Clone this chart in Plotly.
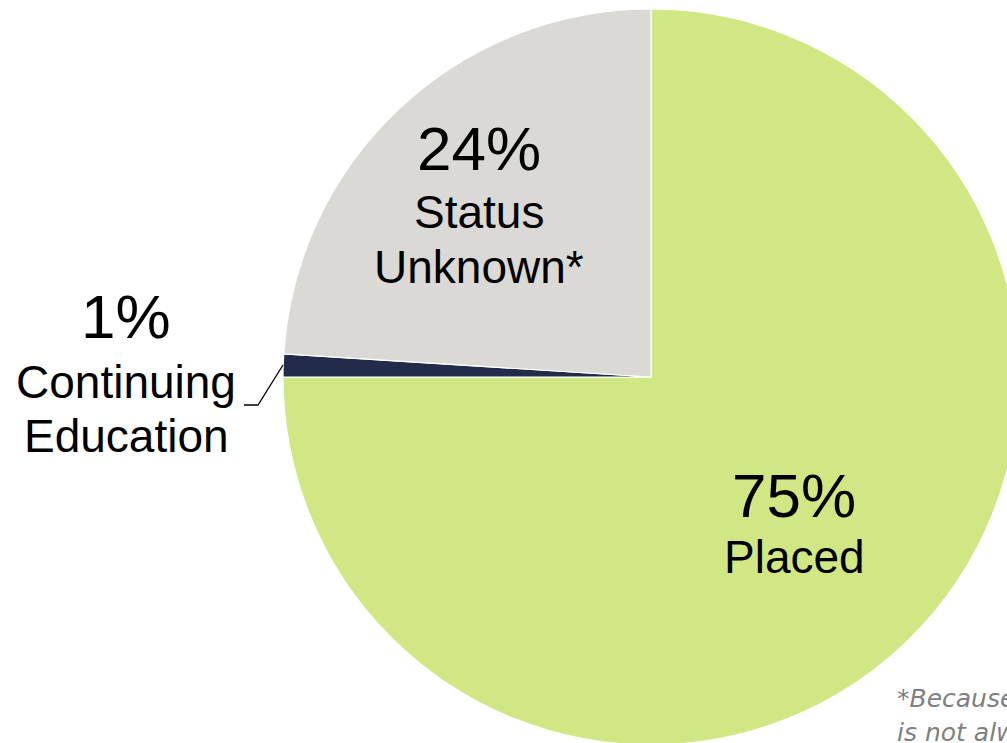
import plotly.graph_objects as go

# ---- data ----
categories = ["Placed", "Continuing Education", "Status Unknown*"]
values = [75, 1, 24]
pct_labels = ["75%", "1%", "24%"]
name_lines = [["Placed"], ["Continuing", "Education"], ["Status", "Unknown*"]]
colors = ["#D0E784", "#232B4A", "#DAD9D5"]
footnote_lines = ["*Because", "is not always"]

# ---- canvas (slightly larger than window so the pie can run off the right/bottom edge) ----
W, H = 1030, 760
cx, cy, r = 651, 377, 368


def px(x):
    return x / W


def py(y):
    return 1 - y / H


fig = go.Figure()
fig.add_trace(go.Pie(
    labels=categories,
    values=values,
    sort=False,
    direction="clockwise",
    rotation=0,
    marker=dict(colors=colors, line=dict(color="#FFFFFF", width=1.2)),
    textinfo="none",
    hoverinfo="label+percent",
    showlegend=False,
    domain=dict(x=[px(cx - r), px(cx + r)], y=[py(cy + r), py(cy - r)]),
))

FONT = "Liberation Sans, Arial, sans-serif"
NUM_SIZE = 62
LBL_SIZE = 46

# label layout: (center x, baseline of percent, baselines of name lines)
label_pos = [
    (794, 517, [573]),
    (126, 338, [398, 452]),
    (479, 170, [228, 283]),
]

annotations = []
for pct, lines, (x, b0, bl) in zip(pct_labels, name_lines, label_pos):
    annotations.append(dict(
        x=px(x), y=py(b0 - 0.347 * NUM_SIZE), xref="paper", yref="paper",
        text=pct, showarrow=False, xanchor="center", yanchor="middle",
        font=dict(family=FONT, size=NUM_SIZE, color="#000000"),
    ))
    for t, b in zip(lines, bl):
        annotations.append(dict(
            x=px(x), y=py(b - 0.347 * LBL_SIZE), xref="paper", yref="paper",
            text=t, showarrow=False, xanchor="center", yanchor="middle",
            font=dict(family=FONT, size=LBL_SIZE, color="#000000"),
        ))

FN_SIZE = 25
FN_FONT = "DejaVu Sans, Verdana, sans-serif"
for t, b in zip(footnote_lines, [707, 741]):
    annotations.append(dict(
        x=px(895), y=py(b - 0.347 * FN_SIZE), xref="paper", yref="paper",
        text="<i>" + t + "</i>", showarrow=False, xanchor="left", yanchor="middle",
        font=dict(family=FN_FONT, size=FN_SIZE, color="#7F7F7F"),
    ))

# leader line for the small slice
shapes = [dict(
    type="path", xref="paper", yref="paper",
    path=f"M {px(244)} {py(405)} L {px(258)} {py(405)} L {px(283)} {py(365)}",
    line=dict(color="#000000", width=1.3),
)]

fig.update_layout(
    width=W, height=H,
    margin=dict(l=0, r=0, t=0, b=0),
    paper_bgcolor="#FFFFFF",
    plot_bgcolor="#FFFFFF",
    annotations=annotations,
    shapes=shapes,
)

fig.write_html(
    "out.html",
    config={"displayModeBar": False},
    post_script=(
        "document.body.style.margin='0';"
        "document.body.style.overflow='hidden';"
        "document.documentElement.style.overflow='hidden';"
    ),
)
